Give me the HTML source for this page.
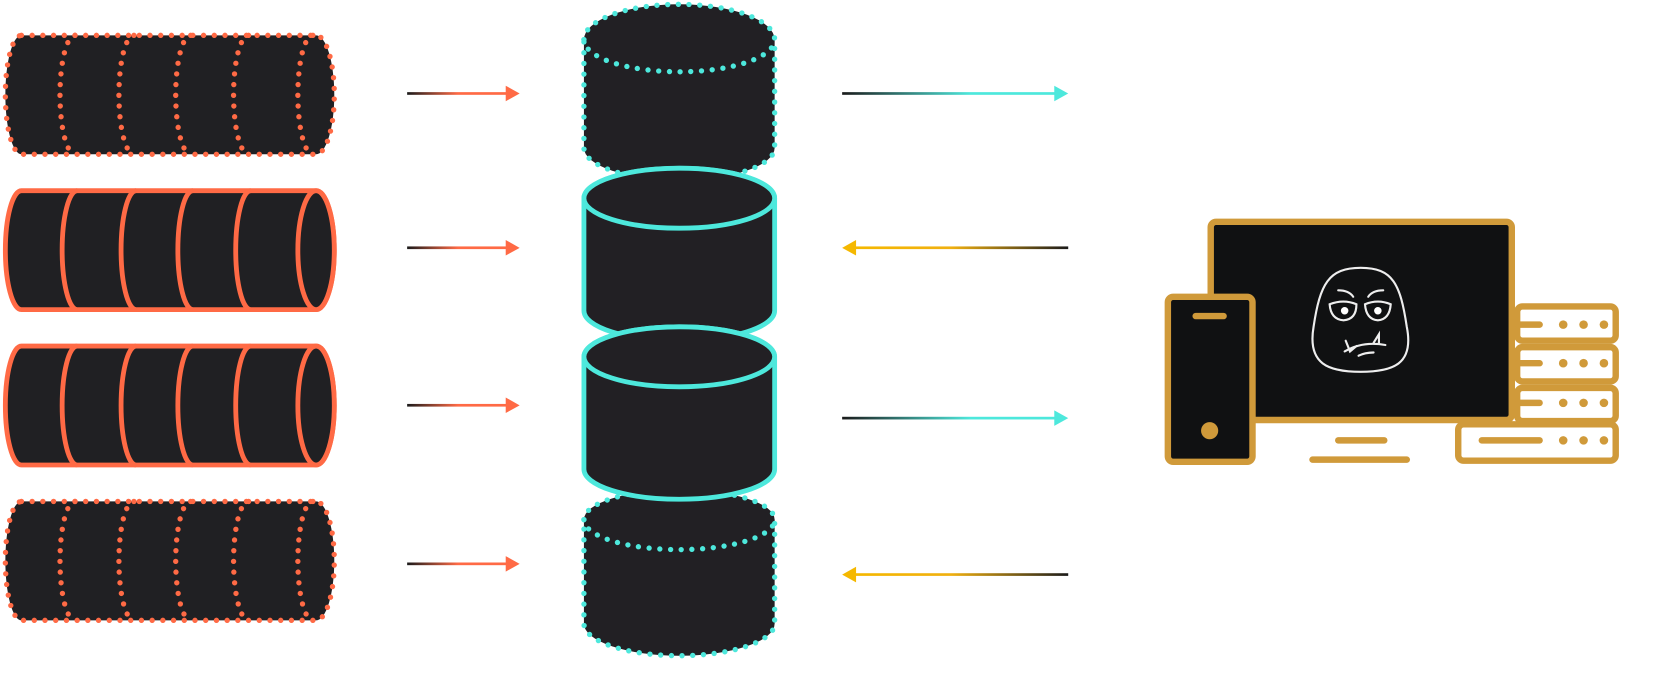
<!DOCTYPE html>
<html><head><meta charset="utf-8"><style>html,body{margin:0;padding:0;background:#fff;}svg{display:block}</style></head>
<body>
<svg width="1680" height="681" viewBox="0 0 1568 635.6" preserveAspectRatio="none" xmlns="http://www.w3.org/2000/svg">
<defs>
<linearGradient id="gr" x1="0" x2="1"><stop offset="0" stop-color="#1a1a1a"/><stop offset="0.5" stop-color="#ff6a45"/><stop offset="1" stop-color="#ff6a45"/></linearGradient>
<linearGradient id="gc" x1="0" x2="1"><stop offset="0" stop-color="#1a1a1a"/><stop offset="0.6" stop-color="#4de8dc"/><stop offset="1" stop-color="#4de8dc"/></linearGradient>
<linearGradient id="go" x1="0" x2="1"><stop offset="0" stop-color="#f5b800"/><stop offset="0.45" stop-color="#f0b010"/><stop offset="1" stop-color="#1a1a1a"/></linearGradient>
</defs>

<g fill="#202023" stroke="#ff6a45" stroke-width="4.5">
  <g stroke-dasharray="0 10" stroke-linecap="round" stroke-width="5">
    <path d="M20,33 L295,33 A17 55.5 0 0 1 295,144 L20,144 A15 55.5 0 0 1 20,33Z"/>
    <path d="M70,33 A14 55.5 0 0 0 70,144 M125,33 A14 55.5 0 0 0 125,144 M178,33 A14 55.5 0 0 0 178,144 M232,33 A14 55.5 0 0 0 232,144 M292,33 A14 55.5 0 0 0 292,144" fill="none"/>
  </g>
  <g>
    <path d="M20,178 L295,178 A17 55.5 0 0 1 295,289 L20,289 A15 55.5 0 0 1 20,178Z"/>
    <path d="M72,178 A14 55.5 0 0 0 72,289 M127,178 A14 55.5 0 0 0 127,289 M180,178 A14 55.5 0 0 0 180,289 M234,178 A14 55.5 0 0 0 234,289" fill="none"/>
    <ellipse cx="295" cy="233.5" rx="17" ry="55.5"/>
  </g>
  <g>
    <path d="M20,323 L295,323 A17 55.5 0 0 1 295,434 L20,434 A15 55.5 0 0 1 20,323Z"/>
    <path d="M72,323 A14 55.5 0 0 0 72,434 M127,323 A14 55.5 0 0 0 127,434 M180,323 A14 55.5 0 0 0 180,434 M234,323 A14 55.5 0 0 0 234,434" fill="none"/>
    <ellipse cx="295" cy="378.5" rx="17" ry="55.5"/>
  </g>
  <g stroke-dasharray="0 10" stroke-linecap="round" stroke-width="5">
    <path d="M20,468 L295,468 A17 55.5 0 0 1 295,579 L20,579 A15 55.5 0 0 1 20,468Z"/>
    <path d="M70,468 A14 55.5 0 0 0 70,579 M125,468 A14 55.5 0 0 0 125,579 M178,468 A14 55.5 0 0 0 178,579 M232,468 A14 55.5 0 0 0 232,579 M292,468 A14 55.5 0 0 0 292,579" fill="none"/>
  </g>
</g>

<g fill="#222024" stroke="#4de8dc" stroke-width="4.5">
  <g stroke-dasharray="0 10" stroke-linecap="round" stroke-width="5">
    <path d="M545,485 A89 28 0 0 1 723,485 L723,582 A89 30 0 0 1 545,582Z"/>
    <path d="M545,485 A89 28 0 0 0 723,485" fill="none"/>
  </g>
  <g stroke-dasharray="0 10" stroke-linecap="round" stroke-width="5">
    <path d="M545,37 A89 33 0 0 1 723,37 L723,138 A89 30 0 0 1 545,138Z"/>
    <path d="M545,37 A89 30 0 0 0 723,37" fill="none"/>
  </g>
  <g>
    <path d="M545,185 A89 28 0 0 1 723,185 L723,290 A89 28 0 0 1 545,290Z"/>
    <ellipse cx="634" cy="185" rx="89" ry="28"/>
  </g>
  <g>
    <path d="M545,333 A89 28 0 0 1 723,333 L723,438 A89 28 0 0 1 545,438Z"/>
    <ellipse cx="634" cy="333" rx="89" ry="28"/>
  </g>
</g>

<g>
  <rect x="380" y="86" width="95" height="2.5" fill="url(#gr)"/><path d="M472,80 L485,87.3 L472,94.5Z" fill="#ff6a45"/>
  <rect x="380" y="230" width="95" height="2.5" fill="url(#gr)"/><path d="M472,224 L485,231.3 L472,238.5Z" fill="#ff6a45"/>
  <rect x="380" y="377" width="95" height="2.5" fill="url(#gr)"/><path d="M472,371 L485,378.3 L472,385.5Z" fill="#ff6a45"/>
  <rect x="380" y="525" width="95" height="2.5" fill="url(#gr)"/><path d="M472,519 L485,526.3 L472,533.5Z" fill="#ff6a45"/>
</g>
<g>
  <rect x="786" y="86" width="200" height="2.5" fill="url(#gc)"/><path d="M984,80 L997,87.3 L984,94.5Z" fill="#4de8dc"/>
  <rect x="798" y="230" width="199" height="2.5" fill="url(#go)"/><path d="M799,224 L786,231.3 L799,238.5Z" fill="#f5b800"/>
  <rect x="786" y="389" width="200" height="2.5" fill="url(#gc)"/><path d="M984,383 L997,390.3 L984,397.5Z" fill="#4de8dc"/>
  <rect x="798" y="535" width="199" height="2.5" fill="url(#go)"/><path d="M799,529 L786,536.3 L799,543.5Z" fill="#f5b800"/>
</g>

<g stroke="#d09a3a" stroke-width="6" stroke-linecap="round">
  <rect x="1130" y="207" width="281" height="185" rx="5" fill="#101112"/>
  <rect x="1416" y="286" width="92" height="32" rx="5" fill="#fff"/>
  <rect x="1416" y="324" width="92" height="32" rx="5" fill="#fff"/>
  <rect x="1416" y="362" width="92" height="31" rx="5" fill="#fff"/>
  <rect x="1361" y="396" width="147" height="34" rx="5" fill="#fff"/>
  <rect x="1090" y="277" width="79" height="154" rx="5" fill="#101112"/>
  <line x1="1116" y1="295" x2="1142" y2="295"/>
  <line x1="1249" y1="411" x2="1292" y2="411"/>
  <line x1="1225" y1="429" x2="1313" y2="429"/>
  <line x1="1417" y1="303" x2="1437" y2="303"/><line x1="1417" y1="339" x2="1437" y2="339"/><line x1="1417" y1="376" x2="1437" y2="376"/>
  <line x1="1383" y1="411" x2="1437" y2="411"/>
</g>
<g fill="#d09a3a">
  <circle cx="1129" cy="402" r="8"/>
  <circle cx="1459" cy="303" r="4"/><circle cx="1478" cy="303" r="4"/><circle cx="1497" cy="303" r="4"/>
  <circle cx="1459" cy="339" r="4"/><circle cx="1478" cy="339" r="4"/><circle cx="1497" cy="339" r="4"/>
  <circle cx="1459" cy="376" r="4"/><circle cx="1478" cy="376" r="4"/><circle cx="1497" cy="376" r="4"/>
  <circle cx="1459" cy="411" r="4"/><circle cx="1478" cy="411" r="4"/><circle cx="1497" cy="411" r="4"/>
</g>
<g fill="none" stroke="#eee" stroke-width="2" stroke-linecap="round">
  <path d="M1270,250 C1240,250 1232,265 1226,305 C1220,340 1240,347 1270,347 C1300,347 1320,340 1313,305 C1307,265 1300,250 1270,250Z"/>
  <path d="M1241,284 Q1254,279 1266,284 Q1266,298 1254,299 Q1242,298 1241,284Z"/>
  <path d="M1274,284 Q1286,279 1298,284 Q1297,298 1286,299 Q1275,298 1274,284Z"/>
  <path d="M1249,271 Q1259,271 1263,277 M1277,277 Q1281,271 1291,271"/>
  <path d="M1255,328 Q1272,318 1293,322 M1256,318 L1260,328 L1266,323 M1282,320 L1287,312 L1287,320 M1268,332 Q1274,329 1282,329"/>
</g>
<g fill="#fff"><circle cx="1255" cy="290" r="3.5"/><circle cx="1286" cy="290" r="3.5"/></g>
</svg>
</body></html>
